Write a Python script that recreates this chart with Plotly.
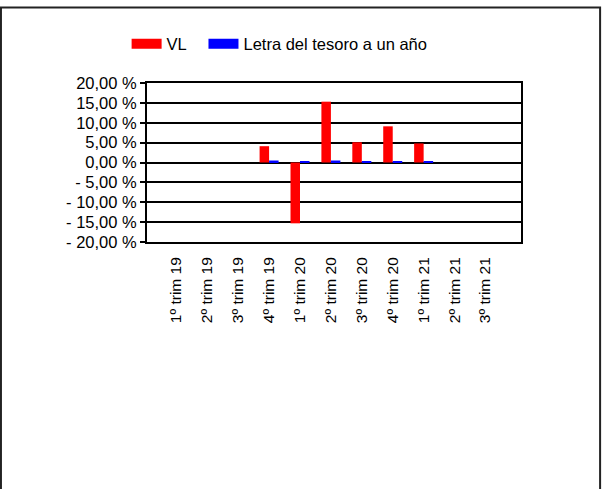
import plotly.graph_objects as go

categories = ["1º trim 19", "2º trim 19", "3º trim 19", "4º trim 19", "1º trim 20",
              "2º trim 20", "3º trim 20", "4º trim 20", "1º trim 21", "2º trim 21", "3º trim 21"]
vl_values = [None, None, None, 4.1, -15.3, 15.3, 5.1, 9.1, 4.8, None, None]
letra_values = [None, None, None, 0.5, 0.2, 0.5, 0.2, 0.2, 0.2, None, None]
y_tick_vals = [20, 15, 10, 5, 0, -5, -10, -15, -20]
y_tick_text = ["20,00 %", "15,00 %", "10,00 %", "5,00 %", "0,00 %",
               "- 5,00 %", "- 10,00 %", "- 15,00 %", "- 20,00 %"]

FONT = "Liberation Sans, Arial, sans-serif"
RED = "#ff0000"
BLUE = "#0000ff"

fig = go.Figure()
fig.add_trace(go.Bar(x=categories, y=vl_values, name="VL", marker=dict(color=RED, line=dict(width=0)),
                     showlegend=False))
fig.add_trace(go.Bar(x=categories, y=letra_values, name="Letra del tesoro a un año",
                     marker=dict(color=BLUE, line=dict(width=0)), showlegend=False))
# legend entries (wide swatches)
fig.add_trace(go.Scatter(x=[None], y=[None], mode="lines", name="VL",
                         line=dict(color=RED, width=13), legend="legend"))
fig.add_trace(go.Scatter(x=[None], y=[None], mode="lines", name="Letra del tesoro a un año",
                         line=dict(color=BLUE, width=13), legend="legend2"))

legend_common = dict(orientation="h", xanchor="left", y=1.245, yanchor="middle",
                     font=dict(family=FONT, size=16.5, color="black"),
                     bgcolor="rgba(0,0,0,0)", itemwidth=30)

fig.update_layout(
    width=602, height=489,
    margin=dict(l=147, r=81, t=83, b=247, pad=0),
    paper_bgcolor="white", plot_bgcolor="white",
    barmode="group", bargap=0.385, bargroupgap=0,
    font=dict(family=FONT, size=16, color="black"),
    legend=dict(x=-0.0545, **legend_common),
    legend2=dict(x=0.151, **legend_common),
    xaxis=dict(type="category", range=[-0.95, 11.15], showgrid=False, showline=True,
               linecolor="black", linewidth=2, mirror=True, ticks="", tickangle=-90,
               ticklabelstandoff=7, tickfont=dict(family=FONT, size=15.5)),
    yaxis=dict(range=[-20, 20], tickvals=y_tick_vals, ticktext=y_tick_text,
               showgrid=True, gridcolor="black", gridwidth=2, zeroline=True,
               zerolinecolor="black", zerolinewidth=2, showline=True, linecolor="black",
               linewidth=2, mirror=True, ticks="outside", ticklen=5, tickwidth=2,
               tickcolor="black", tickfont=dict(family=FONT, size=16.5)),
    shapes=[dict(type="rect", xref="paper", yref="paper",
                 x0=-0.3905, x1=1.2115, y0=-1.6, y1=1.475,
                 line=dict(color="#222222", width=2), layer="above")],
)

fig.write_html("out.html", config={"displayModeBar": False},
               post_script="document.body.style.margin='0';document.body.style.overflow='hidden';")
